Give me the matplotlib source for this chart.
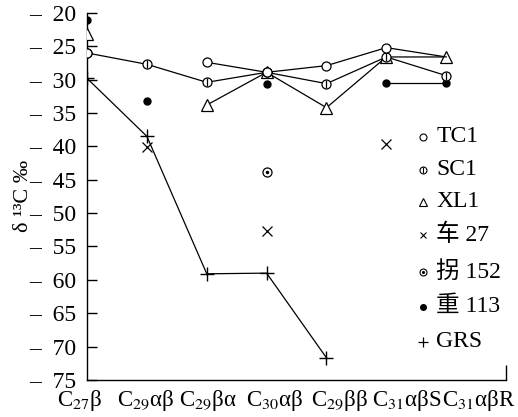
import numpy as np
import matplotlib
matplotlib.use("Agg")
import matplotlib.pyplot as plt
import matplotlib.transforms as mtrans

plt.rcParams['font.family'] = ['Liberation Serif', 'Noto Sans CJK SC']
plt.rcParams['mathtext.fontset'] = 'stix'

nan = np.nan
categories = ['C$_{27}$β', 'C$_{29}$αβ', 'C$_{29}$βα', 'C$_{30}$αβ',
              'C$_{29}$ββ', 'C$_{31}$αβS', 'C$_{31}$αβR']
tc1 = [-26.0, nan, -27.4, -28.9, -27.9, -25.2, -26.6]
sc1 = [-26.0, -27.7, -30.4, -28.9, -30.6, -26.6, -29.4]
xl1 = [-23.1, nan, -33.8, -28.9, -34.2, -26.6, -26.6]
che27 = [nan, -40.1, nan, -52.7, nan, -39.6, nan]
guai152 = [nan, nan, nan, -43.8, nan, nan, nan]
zhong113 = [-21.0, -33.2, nan, -30.6, nan, -30.5, -30.5]
grs = [-29.8, -38.5, -59.1, -59.0, -71.7, nan, nan]
yticks = [-20, -25, -30, -35, -40, -45, -50, -55, -60, -65, -70, -75]

# the printed labels run as one line of text, so they drift off their ticks (px)
label_shift = [-7, -1, 1, 8, 13, 20, 33]

x = np.arange(len(categories))

fig = plt.figure(figsize=(5.18, 4.17), dpi=100)
ax = fig.add_axes([0.168, 0.089, 0.809, 0.88])

lw = 0.9
k = 'black'
# lines first
ax.plot(x, grs, color=k, lw=lw, marker='+', ms=10, mew=1.0, zorder=2)
ax.plot(x, xl1, color=k, lw=lw, marker='^', ms=8, mfc='white', mew=0.9, zorder=3)
ax.plot(x, sc1, color=k, lw=lw, marker='o', ms=6.5, mfc='white', mew=0.9, zorder=3.5)
ax.plot(x, sc1, color=k, lw=0, marker='|', ms=6, mew=0.9, zorder=3.6)
# last TC1 point hides under the XL1 triangle
ax.plot(x, tc1, color=k, lw=lw, marker='o', ms=6.5, mfc='white', mew=0.9,
        markevery=[0, 2, 3, 4, 5], zorder=4)
ax.plot(x, zhong113, color=k, lw=0, marker='o', ms=5, zorder=3)
ax.plot(x[5:], zhong113[5:], color=k, lw=lw, zorder=2)
ax.plot(x, che27, color=k, lw=0, marker='x', ms=7, mew=0.9, zorder=3)
ax.plot(x, guai152, color=k, lw=0, marker='o', ms=6.5, mfc='white', mew=0.9, zorder=3)
ax.plot(x, guai152, color=k, lw=0, marker='o', ms=1.5, zorder=3.1)

ax.set_xlim(0, 7)
ax.set_ylim(-75, -20)
ax.spines['top'].set_visible(False)
ax.spines['right'].set_visible(False)
ax.spines['left'].set_linewidth(1.0)
ax.spines['bottom'].set_linewidth(1.0)

ax.set_yticks(yticks)
ax.set_yticklabels(['–  %d' % abs(v) for v in yticks], fontsize=17)
ax.tick_params(axis='y', direction='in', length=7, width=1.0, pad=8)

ax.set_xticks(x)
ax.set_xticklabels(categories, fontsize=16.5)
ax.set_xticks(np.arange(1, 8), minor=True)
ax.tick_params(axis='x', which='major', length=0, pad=6)
ax.tick_params(axis='x', which='minor', direction='in', length=11, width=1.0)
for lab, dx in zip(ax.get_xticklabels(), label_shift):
    lab.set_transform(lab.get_transform() +
                      mtrans.ScaledTranslation(dx / fig.dpi, 0, fig.dpi_scale_trans))

ax.set_ylabel('δ ¹³C ‰', fontsize=16)
ax.yaxis.set_label_coords(-0.13, 0.5)

# legend drawn by hand
names = ['TC1', 'SC1', 'XL1', '车 27', '拐 152', '重 113', 'GRS']
ypos = [0.662, 0.572, 0.485, 0.395, 0.294, 0.199, 0.104]
mx, tx = 0.802, 0.833
tr = ax.transAxes
ax.plot(mx, ypos[0], 'o', ms=5, mfc='white', mec=k, mew=0.8, transform=tr, clip_on=False)
ax.plot(mx, ypos[1], 'o', ms=5, mfc='white', mec=k, mew=0.8, transform=tr, clip_on=False)
ax.plot(mx, ypos[1], '|', ms=4.5, color=k, mew=0.8, transform=tr, clip_on=False)
ax.plot(mx, ypos[2], '^', ms=6, mfc='white', mec=k, mew=0.8, transform=tr, clip_on=False)
ax.plot(mx, ypos[3], 'x', ms=5, color=k, mew=0.8, transform=tr, clip_on=False)
ax.plot(mx, ypos[4], 'o', ms=5, mfc='white', mec=k, mew=0.8, transform=tr, clip_on=False)
ax.plot(mx, ypos[4], 'o', ms=1.2, color=k, transform=tr, clip_on=False)
ax.plot(mx, ypos[5], 'o', ms=4, color=k, transform=tr, clip_on=False)
ax.plot(mx, ypos[6], '+', ms=7, color=k, mew=0.9, transform=tr, clip_on=False)
for name, yy in zip(names, ypos):
    ax.text(tx, yy, name, fontsize=17, va='center', ha='left', transform=tr)

fig.savefig('out.png', dpi=100)
